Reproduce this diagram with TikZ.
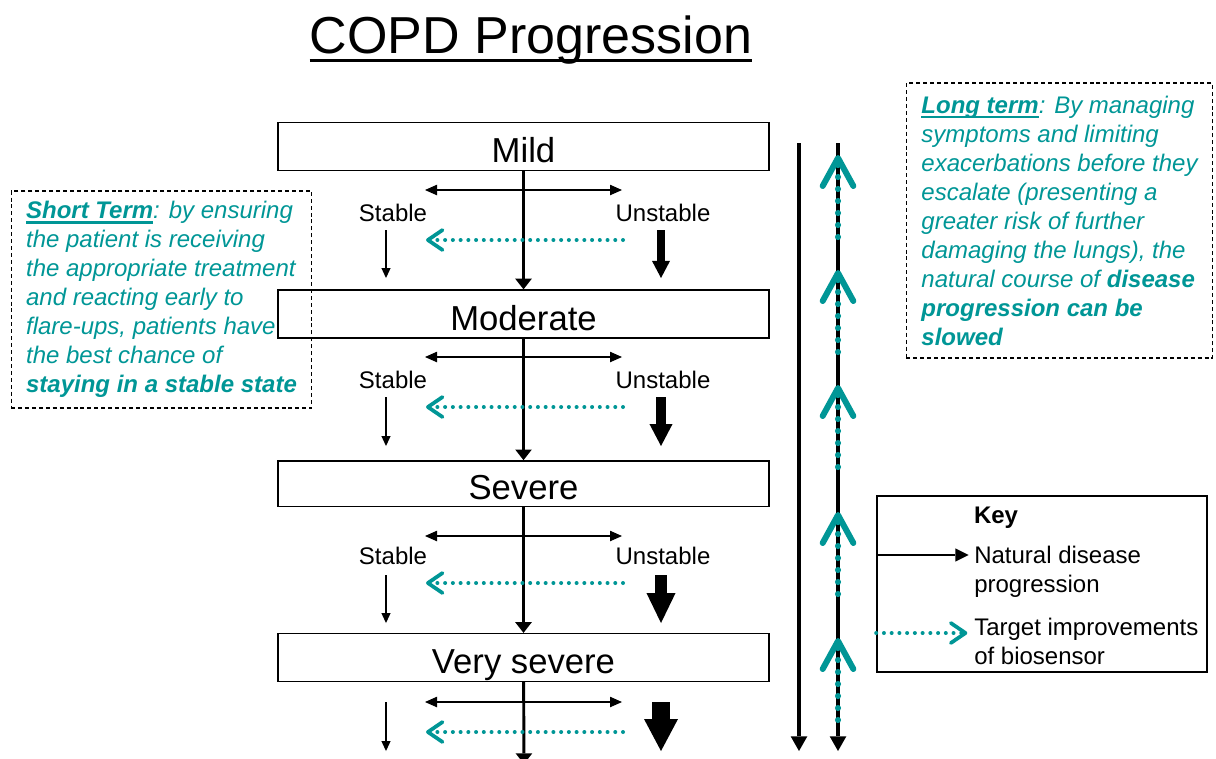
\documentclass[tikz,border=0pt]{standalone}
\usepackage{fontspec}
\setmainfont{Liberation Sans}
\usetikzlibrary{arrows.meta}
\definecolor{sensor}{RGB}{0,150,150}
\newcommand\ulbar[3]{\setbox0\hbox{#3}\rlap{\rule[#1]{\wd0}{#2}}\box0}

\begin{document}
\begin{tikzpicture}[x=0.75pt, y=-0.75pt,
  stage/.style={draw, line width=1pt, minimum width=368.25pt, minimum height=36pt, inner sep=0pt, text height=24pt, text depth=0pt, font=\fontsize{26}{31}\selectfont},
  lbl/.style={inner sep=0pt, font=\fontsize{18}{21.75}\selectfont},
  note/.style={draw, line width=0.9pt, dash pattern=on 3pt off 2.2pt, text=sensor, align=left, inner xsep=11.25pt, inner ysep=3pt, font=\fontsize{18}{21.75}\selectfont\itshape},
  natural/.style={line width=2.2pt, -{Triangle[width=12.5pt,length=8pt,line width=0pt]}},
  both/.style={line width=1.3pt, {Triangle[width=8pt,length=9pt,line width=0pt]}-{Triangle[width=8pt,length=9pt,line width=0pt]}},
  stable/.style={line width=1.1pt, -{Triangle[width=7pt,length=7.5pt,line width=0pt]}},
  improve/.style={draw=sensor, line width=3pt, line cap=round, dash pattern=on 0pt off 5.8pt, -{Straight Barb[length=11pt,width=15pt,line width=2.8pt,round]}},
  rise/.style={draw=sensor, line width=4.6pt, line cap=round, dash pattern=on 0pt off 9pt, -{Straight Barb[length=21pt,width=23pt,line width=4.5pt,round]}},
  course/.style={line width=2.6pt, -{Triangle[width=12.5pt,length=11pt,line width=0pt]}}]
  \useasboundingbox (0,0) rectangle (1216,758);

  \node[inner sep=0pt, anchor=base, font=\fontsize{39}{46}\selectfont] (title) at (531,53) {COPD Progression};
  \draw[line width=1.9pt] ([yshift=-5.6pt]title.base west) -- ([yshift=-5.6pt]title.base east);

  \node[stage] (mild)     at (523.5,146.5) {Mild};
  \node[stage] (moderate) at (523.5,314)   {Moderate};
  \node[stage, minimum height=34pt] (severe) at (523.5,483.5) {Severe};
  \node[stage] (vsevere)  at (523.5,657.5) {Very severe};
  \coordinate (end) at (524,764);

  \draw[natural] (mild) -- (moderate);
  \draw[natural] (moderate) -- (severe);
  \draw[natural] (severe) -- (vsevere);
  \draw[natural] (vsevere) -- (end);

  \node[lbl] (st1) at (393,213) {Stable};
  \node[lbl] (un1) at (663,213) {Unstable};
  \node[lbl] (st2) at (393,380) {Stable};
  \node[lbl] (un2) at (663,380) {Unstable};
  \node[lbl] (st3) at (393,556) {Stable};
  \node[lbl] (un3) at (663,556) {Unstable};

  \foreach \r/\yh/\yd/\yt/\yb/\sw/\hw/\hl in {1/190/240/230/278/5.3pt/13.5pt/12.8pt,
      2/357/407/397/446/7.1pt/17.3pt/16.5pt, 3/536/583/575/623/8.3pt/21.8pt/22.5pt,
      4/702/732/702/751/12.8pt/25.5pt/24pt} {
    \coordinate (bl\r) at (425,\yh); \coordinate (br\r) at (622,\yh);
    \coordinate (ts\r) at (623,\yd); \coordinate (te\r) at (426,\yd);
    \coordinate (ss\r) at (386,\yt); \coordinate (se\r) at (386,\yb);
    \coordinate (us\r) at (661,\yt); \coordinate (ue\r) at (661,\yb);
    \draw[both] (bl\r) -- (br\r);
    \draw[improve] (ts\r) -- (te\r);
    \draw[stable] (ss\r) -- (se\r);
    \draw[line width=\sw, -{Triangle[width=\hw,length=\hl,line width=0pt]}] (us\r) -- (ue\r);
  }

  \coordinate (n1) at (799,143); \coordinate (n2) at (799,751);
  \coordinate (s1) at (838,143); \coordinate (s2) at (838,751);
  \draw[course] (n1) -- (n2);
  \draw[course] (s1) -- (s2);
  \foreach \i/\y in {1/155,2/270,3/385,4/512,5/638} {
    \coordinate (r\i) at (838,\y);
    \coordinate (q\i) at (838,\y+82);
    \draw[rise] (q\i) -- (r\i);
  }

  \node[note, minimum height=162.75pt, text depth=4pt] (short) at (161.5,299.5) {\ulbar{-4pt}{1.8pt}{\bfseries Short Term}: by ensuring\\the patient is receiving\\the appropriate treatment\\and reacting early to\\flare-ups, patients have\\the best chance of\\\textbf{staying in a stable state}};
  \node[note, minimum height=206.25pt] (long) at (1059.5,220.5) {\ulbar{-4pt}{1.8pt}{\bfseries Long term}: By managing\\symptoms and limiting\\exacerbations before they\\escalate (presenting a\\greater risk of further\\damaging the lungs), the\\natural course of \textbf{disease}\\\textbf{progression can be}\\\textbf{slowed}};

  \node[draw, line width=1.2pt, minimum width=247.5pt, minimum height=132pt] (key) at (1042,584) {};
  \node[lbl, font=\fontsize{18}{21.75}\selectfont\bfseries] (keyt) at (996,518) {Key};
  \node[lbl, anchor=west, align=left] (nat) at (974,571.5) {Natural disease\\progression};
  \node[lbl, anchor=west, align=left] (tgt) at (974,641) {Target improvements\\of biosensor};
  \coordinate (kn) at (key.west |- 0,555);
  \coordinate (kt) at (key.west |- 0,633);
  \draw[line width=2.2pt, shorten >=4pt, -{Triangle[width=10pt,length=10pt,line width=0pt]}] (kn) -- (kn -| nat.west);
  \draw[improve, shorten >=5pt] (kt) -- (kt -| tgt.west);
\end{tikzpicture}
\end{document}
